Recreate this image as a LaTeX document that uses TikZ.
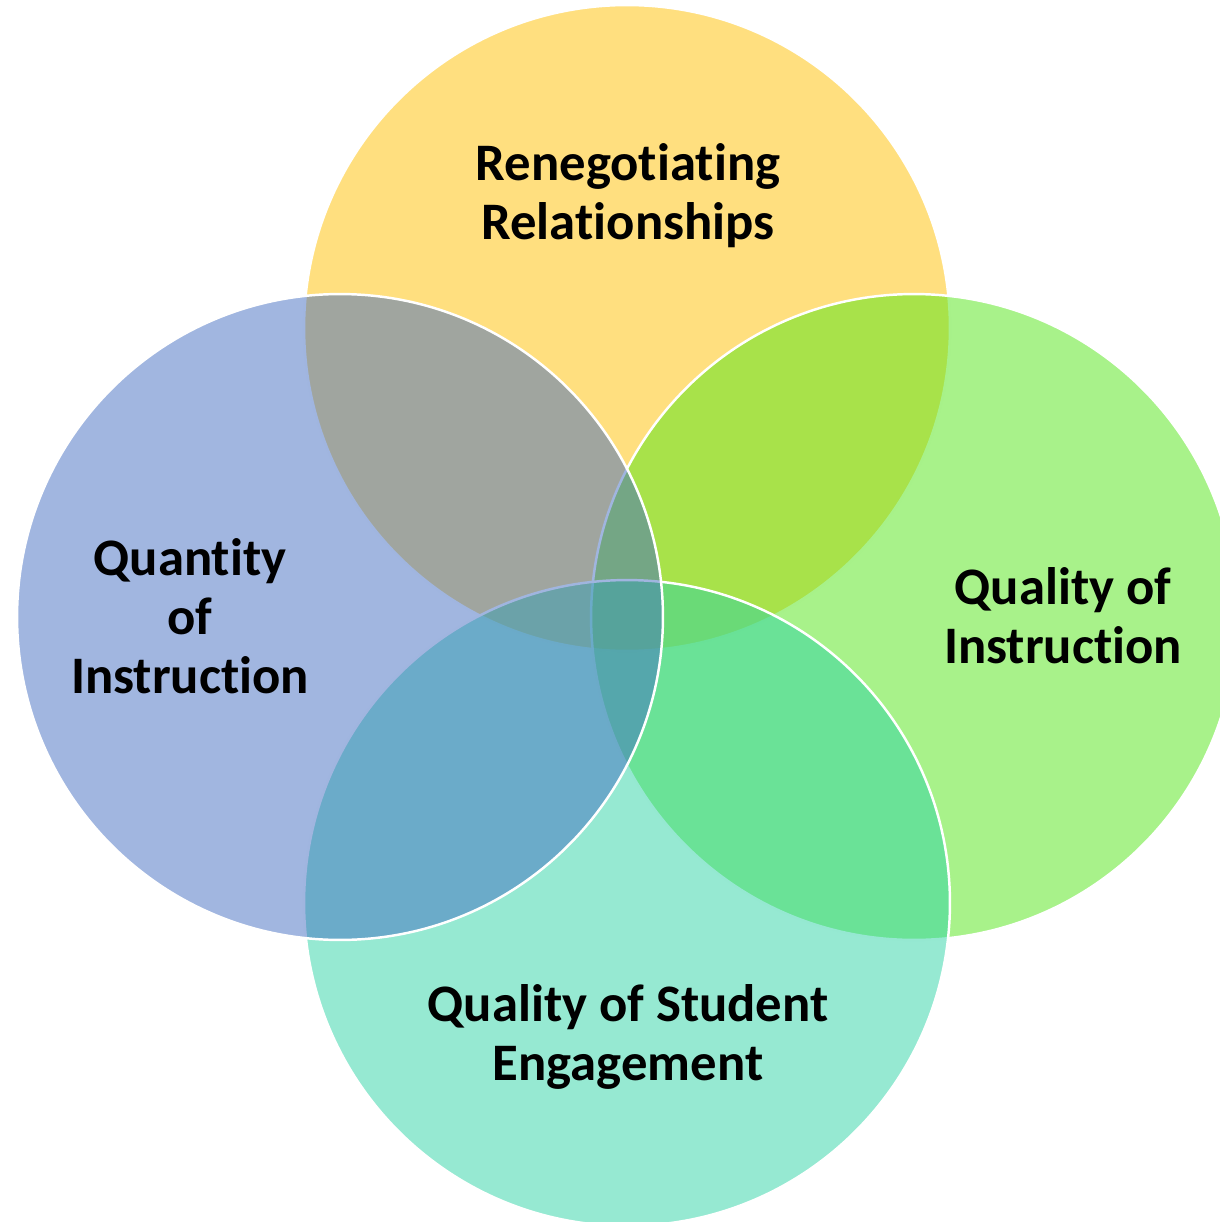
\documentclass[tikz,border=0pt]{standalone}
\usepackage{fontspec}
\setmainfont{Carlito}[Ligatures=NoCommon]

\definecolor{vennyellow}{HTML}{FFC000}
\definecolor{vennblue}{HTML}{436DC1}
\definecolor{venngreen}{HTML}{51E515}
\definecolor{vennteal}{HTML}{2DD3A5}

\tikzset{
	venn/.style={circle,inner sep=0pt,minimum size=12.92cm,draw=white,line width=1.4pt,fill opacity=.5},
	vennlabel/.style={align=center,font=\fontsize{30}{33.5}\selectfont\bfseries,text=black}
}

\begin{document}
\begin{tikzpicture}[x=0.02cm,y=-0.02cm]
	\useasboundingbox (0,0) rectangle (1219,1222);

	% the four circles, in the order they are stacked
	\node[venn,fill=vennyellow] (reneg) at (627,328) {};
	\node[venn,fill=venngreen] (qualinst) at (914,617) {};
	\node[venn,fill=vennteal] (engage) at (627,903) {};
	\node[venn,fill=vennblue] (quantinst) at (340,617) {};

	% labels
	\node[vennlabel] (renegtext) at (628,196) {Renegotiating\\Relationships};
	\node[vennlabel] (quanttext) at (190,616) {Quantity\\of\\Instruction};
	\node[vennlabel] (qualtext) at (1063,616) {Quality of\\Instruction};
	\node[vennlabel] (engagetext) at (628,1037) {Quality of Student\\Engagement};
\end{tikzpicture}
\end{document}
